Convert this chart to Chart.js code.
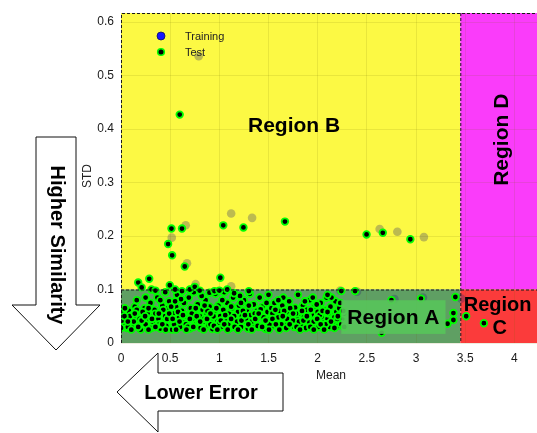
<!DOCTYPE html>
<html>
<head>
<meta charset="utf-8">
<script src="https://cdn.jsdelivr.net/npm/chart.js@4"></script>
<style>
  body { margin: 0; background: #fff; }
  .chart-container { width: 537px; height: 433px; position: relative; }
</style>
</head>
<body>
<div class="chart-container"><canvas id="myChart"></canvas></div>
<script>
// tick labels
const xTickValues = [0, 0.5, 1, 1.5, 2, 2.5, 3, 3.5, 4];
const yTickValues = [0, 0.1, 0.2, 0.3, 0.4, 0.5, 0.6];

// region limits (Mean / STD thresholds)
const meanLimit = 3.45;
const stdLimit = 0.1;

// Test points
const testMean = [
  0.02, 0.03, 0.05, 0.06, 0.08, 0.1, 0.11, 0.12, 0.14, 0.15,
  0.17, 0.18, 0.2, 0.21, 0.23, 0.24, 0.26, 0.27, 0.29, 0.3,
  0.31, 0.33, 0.34, 0.36, 0.37, 0.38, 0.4, 0.41, 0.42, 0.44,
  0.45, 0.46, 0.48, 0.49, 0.5, 0.52, 0.53, 0.55, 0.56, 0.57,
  0.59, 0.6, 0.62, 0.63, 0.64, 0.66, 0.67, 0.69, 0.7, 0.71,
  0.73, 0.74, 0.75, 0.77, 0.78, 0.8, 0.81, 0.83, 0.84, 0.86,
  0.87, 0.89, 0.9, 0.92, 0.93, 0.95, 0.96, 0.98, 0.99, 1.01,
  1.02, 1.04, 1.05, 1.07, 1.08, 1.1, 1.11, 1.13, 1.14, 1.16,
  1.17, 1.19, 1.2, 1.22, 1.23, 1.25, 1.26, 1.28, 1.29, 1.31,
  1.32, 1.34, 1.35, 1.37, 1.38, 1.4, 1.41, 1.43, 1.44, 1.46,
  1.47, 1.49, 1.5, 1.52, 1.53, 1.55, 1.56, 1.58, 1.59, 1.61,
  1.62, 1.64, 1.65, 1.67, 1.68, 1.7, 1.71, 1.73, 1.74, 1.76,
  1.77, 1.79, 1.8, 1.82, 1.83, 1.85, 1.86, 1.88, 1.89, 1.91,
  1.92, 1.94, 1.95, 1.97, 1.98, 2.0, 2.01, 2.03, 2.04, 2.06,
  2.07, 2.09, 2.1, 2.12, 2.13, 2.15, 2.16, 2.18, 2.19, 2.21,
  2.22, 2.24, 2.25, 2.27, 2.38, 2.75, 3.05, 3.4, 3.38, 3.38, 3.32, 2.65,
  0.01, 0.04, 0.07, 0.09, 0.13, 0.16, 0.19, 0.22, 0.25, 0.28,
  0.32, 0.35, 0.39, 0.43, 0.47, 0.51, 0.54, 0.58, 0.61, 0.65,
  0.68, 0.72, 0.76, 0.79, 0.82, 0.85, 0.88, 0.91, 0.94, 0.97,
  1.0, 1.03, 1.06, 1.09, 1.12, 1.15, 1.18, 1.21, 1.24, 1.27,
  1.3, 1.33, 1.36, 1.39, 1.42, 1.45, 1.48, 1.51, 1.54, 1.57,
  1.6, 1.63, 1.66, 1.69, 1.72, 1.75, 1.78, 1.81, 1.84, 1.87,
  1.9, 1.93, 1.96, 1.99, 2.02, 2.05, 2.08, 2.11, 2.14, 2.17, 2.2, 2.23, 2.26,
  0.0, 0.035, 0.07, 0.105, 0.14, 0.175, 0.21, 0.245, 0.28, 0.315,
  0.35, 0.385, 0.42, 0.455, 0.49, 0.525, 0.56, 0.595, 0.63, 0.665,
  0.7, 0.735, 0.77, 0.805, 0.84, 0.875, 0.91, 0.945, 0.98, 1.015,
  1.05, 1.085, 1.12, 1.155, 1.19, 1.225, 1.26, 1.295, 1.33, 1.365,
  1.4, 1.435, 1.47, 1.505, 1.54, 1.575, 1.61, 1.645, 1.68, 1.715,
  1.75, 1.785, 1.82, 1.855, 1.89, 1.925, 1.96, 1.995, 2.03, 2.065,
  2.1, 2.135, 2.17, 2.205, 2.24, 2.27,
  0.4, 0.55, 0.85, 1.22, 1.6, 1.95, 2.1, 0.25, 0.16,
  0.175, 0.21, 0.287, 0.31, 0.496, 0.35, 0.45, 0.55, 0.62, 0.7,
  0.75, 0.8, 0.9, 0.95, 1.0, 1.08, 1.15, 1.3,
  0.513, 0.479, 0.52, 0.62, 0.648, 1.04, 1.245, 1.667, 1.01, 0.597,
  2.497, 2.662, 2.942,
  3.51, 3.69
];
const testStd = [
  0.055, 0.035, 0.045, 0.028, 0.06, 0.04, 0.052, 0.03, 0.068, 0.045,
  0.035, 0.058, 0.025, 0.048, 0.038, 0.065, 0.03, 0.055, 0.042, 0.075,
  0.028, 0.05, 0.062, 0.035, 0.085, 0.045, 0.027, 0.058, 0.07, 0.04,
  0.05, 0.032, 0.065, 0.078, 0.045, 0.025, 0.055, 0.038, 0.068, 0.09,
  0.048, 0.03, 0.06, 0.042, 0.075, 0.035, 0.052, 0.085, 0.027, 0.065,
  0.045, 0.095, 0.058, 0.036, 0.072, 0.05, 0.028, 0.062, 0.04, 0.08,
  0.055, 0.033, 0.068, 0.046, 0.026, 0.06, 0.092, 0.04, 0.07, 0.05,
  0.03, 0.062, 0.095, 0.042, 0.075, 0.055, 0.028, 0.065, 0.085, 0.045,
  0.035, 0.058, 0.07, 0.03, 0.05, 0.08, 0.04, 0.062, 0.027, 0.092,
  0.052, 0.036, 0.072, 0.045, 0.06, 0.03, 0.085, 0.05, 0.068, 0.038,
  0.026, 0.058, 0.09, 0.045, 0.065, 0.032, 0.075, 0.05, 0.04, 0.06,
  0.028, 0.07, 0.085, 0.046, 0.035, 0.058, 0.078, 0.04, 0.052, 0.03,
  0.066, 0.045, 0.09, 0.055, 0.035, 0.07, 0.048, 0.028, 0.062, 0.04,
  0.08, 0.052, 0.033, 0.068, 0.045, 0.058, 0.03, 0.075, 0.048, 0.038,
  0.062, 0.085, 0.045, 0.03, 0.068, 0.052, 0.04, 0.078, 0.058, 0.032,
  0.065, 0.097, 0.045, 0.055, 0.097, 0.08, 0.083, 0.086, 0.056, 0.043, 0.036, 0.019,
  0.042, 0.065, 0.03, 0.05, 0.04, 0.062, 0.045, 0.058, 0.035, 0.065,
  0.04, 0.055, 0.035, 0.062, 0.045, 0.068, 0.035, 0.058, 0.082, 0.05,
  0.03, 0.055, 0.065, 0.04, 0.088, 0.045, 0.06, 0.035, 0.05, 0.065,
  0.038, 0.08, 0.052, 0.035, 0.068, 0.05, 0.04, 0.088, 0.06, 0.045,
  0.07, 0.04, 0.055, 0.032, 0.063, 0.048, 0.075, 0.035, 0.055, 0.062,
  0.048, 0.035, 0.06, 0.045, 0.065, 0.042, 0.055, 0.04, 0.06, 0.078,
  0.05, 0.062, 0.04, 0.072, 0.052, 0.06, 0.035, 0.055, 0.085, 0.048, 0.045, 0.075, 0.06,
  0.028, 0.05, 0.04, 0.025, 0.055, 0.03, 0.042, 0.05, 0.025, 0.045,
  0.03, 0.055, 0.035, 0.025, 0.055, 0.045, 0.025, 0.04, 0.052, 0.025,
  0.045, 0.03, 0.05, 0.04, 0.025, 0.045, 0.055, 0.032, 0.025, 0.042,
  0.035, 0.025, 0.045, 0.03, 0.025, 0.042, 0.052, 0.035, 0.025, 0.045,
  0.055, 0.03, 0.042, 0.025, 0.045, 0.035, 0.025, 0.05, 0.028, 0.035,
  0.055, 0.03, 0.025, 0.042, 0.05, 0.03, 0.025, 0.045, 0.035, 0.025,
  0.058, 0.04, 0.028, 0.05, 0.035, 0.03,
  0.08, 0.078, 0.07, 0.075, 0.08, 0.085, 0.09, 0.085, 0.08,
  0.113, 0.104, 0.12, 0.1, 0.108, 0.098, 0.095, 0.1, 0.097, 0.1,
  0.105, 0.098, 0.094, 0.097, 0.098, 0.1, 0.093, 0.097,
  0.214, 0.185, 0.164, 0.214, 0.143, 0.22, 0.216, 0.227, 0.122, 0.427,
  0.203, 0.206, 0.194,
  0.05, 0.037
];

// Training points (mostly hidden below the test points)
const trainMean = [
  0.79, 0.516, 0.658, 0.671, 1.12, 1.333, 0.759, 1.12, 2.63, 2.81, 3.08,
  2.23, 2.4, 3.46, 2.78, 3.07, 0.3, 0.6, 0.95, 1.35, 1.7, 2.05
];
const trainStd = [
  0.536, 0.197, 0.22, 0.149, 0.242, 0.234, 0.11, 0.106, 0.213, 0.208, 0.198,
  0.098, 0.096, 0.083, 0.082, 0.085, 0.05, 0.06, 0.045, 0.055, 0.05, 0.06
];

const toPoints = (xs, ys) => xs.map((x, i) => ({x: x, y: ys[i]}));

const fontFamily = '"Liberation Sans", Arial, sans-serif';

const regionsPlugin = {
  id: 'regions',
  beforeDraw: (chart) => {
    const ctx = chart.ctx;
    const a = chart.chartArea;
    const xs = chart.scales.x, ys = chart.scales.y;
    const xb = xs.getPixelForValue(meanLimit);
    const yb = ys.getPixelForValue(stdLimit);
    ctx.save();
    ctx.fillStyle = '#fcf944';
    ctx.fillRect(a.left, a.top, xb - a.left, yb - a.top);
    ctx.fillStyle = '#fa3cfa';
    ctx.fillRect(xb, a.top, a.right - xb, yb - a.top);
    ctx.fillStyle = '#5f9f63';
    ctx.fillRect(a.left, yb, xb - a.left, a.bottom - yb);
    ctx.fillStyle = '#fb3b3b';
    ctx.fillRect(xb, yb, a.right - xb, a.bottom - yb);

    // arrows
    ctx.fillStyle = '#fff';
    ctx.strokeStyle = '#111';
    ctx.lineWidth = 1;
    ctx.beginPath();
    ctx.moveTo(36, 137); ctx.lineTo(76, 137); ctx.lineTo(76, 305);
    ctx.lineTo(100, 305); ctx.lineTo(56, 350); ctx.lineTo(12, 305);
    ctx.lineTo(36, 305); ctx.closePath();
    ctx.fill(); ctx.stroke();

    ctx.beginPath();
    ctx.moveTo(117, 392); ctx.lineTo(158, 353); ctx.lineTo(158, 373);
    ctx.lineTo(283, 373); ctx.lineTo(283, 411); ctx.lineTo(158, 411);
    ctx.lineTo(158, 432); ctx.closePath();
    ctx.fill(); ctx.stroke();

    ctx.fillStyle = '#000';
    ctx.font = 'bold 20px ' + fontFamily;
    ctx.textAlign = 'center';
    ctx.textBaseline = 'middle';
    ctx.fillText('Lower Error', 201, 393);
    ctx.save();
    ctx.translate(57, 245);
    ctx.rotate(Math.PI / 2);
    ctx.fillText('Higher Similarity', 0, 0);
    ctx.restore();

    // axis titles
    ctx.fillStyle = '#222';
    ctx.font = '12px ' + fontFamily;
    ctx.fillText('Mean', 331, 376);
    ctx.save();
    ctx.translate(88, 176);
    ctx.rotate(-Math.PI / 2);
    ctx.fillText('STD', 0, 0);
    ctx.restore();
    ctx.restore();
  },
  afterDatasetsDraw: (chart) => {
    const ctx = chart.ctx;
    const a = chart.chartArea;
    const xs = chart.scales.x, ys = chart.scales.y;
    const xb = xs.getPixelForValue(meanLimit);
    const yb = ys.getPixelForValue(stdLimit);
    ctx.save();
    // dashed borders
    ctx.strokeStyle = '#1a1a1a';
    ctx.lineWidth = 1;
    ctx.setLineDash([3, 2]);
    ctx.beginPath();
    ctx.moveTo(a.left + 0.5, a.bottom); ctx.lineTo(a.left + 0.5, a.top + 0.5);
    ctx.lineTo(a.right, a.top + 0.5);
    ctx.moveTo(a.left, yb + 0.5); ctx.lineTo(a.right, yb + 0.5);
    ctx.moveTo(xb + 0.5, a.top); ctx.lineTo(xb + 0.5, a.bottom);
    ctx.stroke();
    ctx.setLineDash([]);

    // Region A label box
    const bx1 = xs.getPixelForValue(2.24), bx2 = xs.getPixelForValue(3.3);
    const by1 = ys.getPixelForValue(0.08), by2 = ys.getPixelForValue(0.017);
    ctx.fillStyle = 'rgba(88,196,90,0.9)';
    ctx.fillRect(bx1, by1, bx2 - bx1, by2 - by1);

    ctx.fillStyle = '#000';
    ctx.textAlign = 'center';
    ctx.textBaseline = 'middle';
    ctx.font = 'bold 21px ' + fontFamily;
    ctx.fillText('Region A', (bx1 + bx2) / 2, (by1 + by2) / 2 + 1);
    ctx.fillText('Region B', xs.getPixelForValue(1.76), ys.getPixelForValue(0.405));
    ctx.font = 'bold 20px ' + fontFamily;
    ctx.fillText('Region', xs.getPixelForValue(3.83), ys.getPixelForValue(0.07));
    ctx.fillText('C', xs.getPixelForValue(3.85), ys.getPixelForValue(0.027));
    ctx.save();
    ctx.translate(xs.getPixelForValue(3.88), ys.getPixelForValue(0.38));
    ctx.rotate(-Math.PI / 2);
    ctx.font = 'bold 21px ' + fontFamily;
    ctx.fillText('Region D', 0, 0);
    ctx.restore();

    // legend
    ctx.beginPath();
    ctx.arc(161, 36, 4, 0, Math.PI * 2);
    ctx.fillStyle = '#1515ff';
    ctx.fill();
    ctx.strokeStyle = '#101060';
    ctx.lineWidth = 0.8;
    ctx.stroke();
    ctx.beginPath();
    ctx.arc(161, 52, 3.3, 0, Math.PI * 2);
    ctx.fillStyle = '#000';
    ctx.fill();
    ctx.strokeStyle = '#00ff00';
    ctx.lineWidth = 1.6;
    ctx.stroke();
    ctx.fillStyle = '#222';
    ctx.font = '11px ' + fontFamily;
    ctx.textAlign = 'left';
    ctx.fillText('Training', 185, 37);
    ctx.fillText('Test', 185, 53);
    ctx.restore();
  }
};

const ch = document.getElementById('myChart');
const regionChart = new Chart(ch, {
  type: 'scatter',
  data: {
    datasets: [{
      label: 'Training',
      data: toPoints(trainMean, trainStd),
      backgroundColor: 'rgba(40,40,110,0.3)',
      borderWidth: 0,
      pointRadius: 4.3,
      order: 2
    }, {
      label: 'Test',
      data: toPoints(testMean, testStd),
      backgroundColor: '#000',
      borderColor: '#00ff00',
      borderWidth: 1.8,
      pointRadius: 3.3,
      order: 1
    }]
  },
  plugins: [regionsPlugin],
  options: {
    maintainAspectRatio: false,
    animation: false,
    layout: {autoPadding: false, padding: {top: 13, right: 0, left: 0, bottom: 0}},
    plugins: {legend: {display: false}, tooltip: {enabled: false}},
    scales: {
      x: {
        type: 'linear',
        min: 0,
        max: 4.23,
        afterFit: (scale) => { scale.height = 90; scale.paddingLeft = 0; scale.paddingRight = 0; },
        afterBuildTicks: (scale) => { scale.ticks = xTickValues.map(v => ({value: v})); },
        grid: {color: 'rgba(110,110,0,0.13)', drawTicks: false},
        border: {display: false},
        ticks: {padding: 8, color: '#1a1a1a', font: {family: fontFamily, size: 12}, maxRotation: 0,
                callback: (v) => String(v)}
      },
      y: {
        type: 'linear',
        min: 0,
        max: 0.617,
        afterFit: (scale) => { scale.width = 121; scale.paddingTop = 0; scale.paddingBottom = 0; },
        afterBuildTicks: (scale) => { scale.ticks = yTickValues.map(v => ({value: v})); },
        grid: {color: 'rgba(110,110,0,0.13)', drawTicks: false},
        border: {display: false},
        ticks: {padding: 7, color: '#1a1a1a', font: {family: fontFamily, size: 12},
                callback: (v) => String(v)}
      }
    }
  }
});
</script>
</body>
</html>
